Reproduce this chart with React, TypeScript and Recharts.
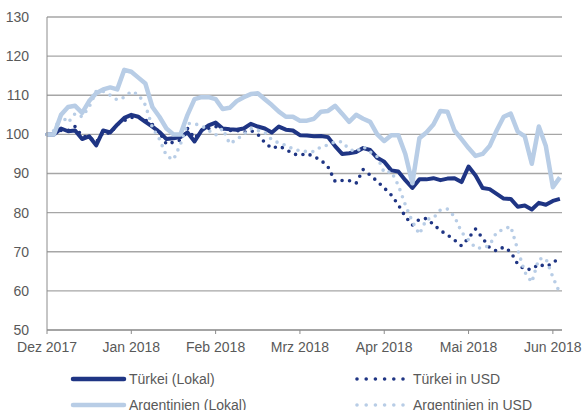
import { CartesianGrid, Line, LineChart, XAxis, YAxis } from 'recharts';

// x = trading-day step (12 steps per month), ticks every month
const monthTicks = [0, 12, 24, 36, 48, 60, 72];
const monthLabels = ['Dez 2017', 'Jan 2018', 'Feb 2018', 'Mrz 2018', 'Apr 2018', 'Mai 2018', 'Jun 2018'];
const yTicks = [50, 60, 70, 80, 90, 100, 110, 120, 130];

const tuerkeiLokal = [
  100, 100, 101.5, 100.8, 101, 98.8, 99.5, 97.2, 101, 100.5, 102.5, 104.2, 105, 104.5, 103.2, 102,
  100.6, 98.8, 99, 99.3, 100.5, 98.2, 101, 102.3, 103, 101.5, 101.3, 101.2, 101.5, 102.7, 102, 101.5,
  100.5, 102, 101.2, 101, 99.8, 99.7, 99.5, 99.6, 99.3, 97, 95, 95.2, 95.5, 96.5, 96, 94, 93, 90.8,
  90.5, 88.3, 86.3, 88.5, 88.5, 88.8, 88.3, 88.7, 88.8, 87.8, 91.8, 89.5, 86.3, 86, 84.8, 83.6, 83.5,
  81.5, 81.8, 80.8, 82.5, 82, 83, 83.5,
];

const tuerkeiUsd = [
  100, 100, 101, 101, 102, 99.5, 99.3, 98, 100.5, 100.2, 102.5, 103.5, 104.3, 104.5, 103.7, 102.5,
  100.5, 97.5, 98, 98.5, 101.5, 99, 101, 101.5, 102, 101.5, 101, 101, 100.5, 101, 100, 97.9, 96.4, 97,
  96.2, 95, 94.7, 95.1, 94.3, 93.4, 91.7, 88, 88.2, 88.2, 87.5, 91, 89.6, 88, 86.3, 84.5, 82, 79, 76.8,
  78.3, 78.5, 77, 75.4, 74.3, 73, 71.5, 73.5, 75.8, 73.5, 71, 70.2, 71.2, 70, 66.8, 65.5, 65.5, 66.8,
  66.2, 67, 68.8,
];

const argentinienLokal = [
  100, 100, 105, 107, 107.3, 105.5, 108.5, 110.5, 111.5, 112, 111.5, 116.5, 116, 114.5, 113, 107,
  104.5, 101.5, 100, 100, 105, 109, 109.5, 109.5, 109, 106.5, 106.8, 108.5, 109.5, 110.3, 110.5, 109,
  107.5, 105.8, 104.5, 104.5, 103.5, 103.5, 104, 105.8, 106, 107.3, 105.3, 103.2, 105, 104, 103.2, 100,
  98.3, 99.8, 99.8, 95, 87.5, 99, 100.5, 102.5, 106, 105.8, 101, 98.8, 96.5, 94.5, 95, 97, 101, 104.5,
  105.3, 100.7, 99.5, 92.5, 102, 97, 86.5, 89,
];

const argentinienUsd = [
  100, 101, 104.8, 103, 105.3, 104.5, 107, 111, 111, 110, 108.8, 109.5, 111, 110.2, 107.5, 101.8, 98.8,
  94.5, 93.5, 97.5, 102.8, 102.7, 102.2, 101, 99.8, 101.5, 97.6, 98.7, 100, 101.5, 101, 100.5, 98.6,
  97.8, 97.2, 96.3, 95.8, 95.6, 95.6, 96.8, 97.3, 98.1, 98.1, 96.2, 95.6, 96.9, 95.5, 94.3, 90.2, 90.5,
  87, 82, 77.7, 74.5, 78.3, 78.6, 80.7, 80.9, 79, 75, 73, 71, 70.9, 71.7, 75, 75.7, 76.5, 70.5, 64.8,
  62.2, 68.2, 68.3, 63.5, 59.4,
];

const DARK = '#1f3584';
const LIGHT = '#b8cde6';
const TEXT = '#595959';
const FONT = '"Liberation Sans", Arial, sans-serif';

const data = tuerkeiLokal.map((v, i) => ({
  i,
  tl: v,
  tu: tuerkeiUsd[i],
  al: argentinienLokal[i],
  au: argentinienUsd[i],
}));

const legendItems = [
  { label: 'Türkei (Lokal)', color: DARK, dotted: false, x: 71, y: 379 },
  { label: 'Türkei in USD', color: DARK, dotted: true, x: 357, y: 379 },
  { label: 'Argentinien (Lokal)', color: LIGHT, dotted: false, x: 71, y: 405 },
  { label: 'Argentinien in USD', color: LIGHT, dotted: true, x: 357, y: 405 },
];

function ChartLegend() {
  return (
    <svg width={586} height={410} style={{ position: 'absolute', left: 0, top: 0, pointerEvents: 'none' }}>
      {legendItems.map((it) => (
        <g key={it.label}>
          {it.dotted ? (
            <line
              x1={it.x}
              x2={it.x + 47}
              y1={it.y}
              y2={it.y}
              stroke={it.color}
              strokeWidth={3.6}
              strokeLinecap="round"
              strokeDasharray="0 9.2"
            />
          ) : (
            <line
              x1={it.x + 2}
              x2={it.x + 53}
              y1={it.y}
              y2={it.y}
              stroke={it.color}
              strokeWidth={4.5}
              strokeLinecap="round"
            />
          )}
          <text
            x={it.dotted ? it.x + 56 : it.x + 58}
            y={it.y + 5}
            fontSize={14}
            fill={TEXT}
            fontFamily={FONT}
          >
            {it.label}
          </text>
        </g>
      ))}
    </svg>
  );
}

export default function App() {
  return (
    <div style={{ position: 'absolute', left: 0, top: 0, width: 586, height: 410, background: '#fff' }}>
      <LineChart
        width={586}
        height={410}
        data={data}
        margin={{ top: 17, right: 24, left: 0, bottom: 50 }}
      >
        <CartesianGrid vertical={false} stroke="#a6a6a6" strokeWidth={1.3} />
        <XAxis
          dataKey="i"
          type="number"
          domain={[0, 73.3]}
          ticks={monthTicks}
          tickFormatter={(v: number) => monthLabels[monthTicks.indexOf(v)] ?? ''}
          height={30}
          stroke="#8c8c8c"
          tickSize={4}
          tickMargin={8}
          tick={{ fontSize: 14, fill: TEXT, fontFamily: FONT }}
        />
        <YAxis
          type="number"
          domain={[50, 130]}
          ticks={yTicks}
          width={47}
          stroke="#8c8c8c"
          tickLine={false}
          tickMargin={12}
          tick={{ fontSize: 14, fill: TEXT, fontFamily: FONT }}
        />
        <Line
          dataKey="tl"
          type="linear"
          stroke={DARK}
          strokeWidth={4}
          dot={false}
          strokeLinejoin="round"
          isAnimationActive={false}
        />
        <Line
          dataKey="tu"
          type="linear"
          stroke={DARK}
          strokeWidth={3.6}
          strokeLinecap="round"
          strokeDasharray="0 7.5"
          dot={false}
          isAnimationActive={false}
        />
        <Line
          dataKey="al"
          type="linear"
          stroke={LIGHT}
          strokeWidth={4.5}
          dot={false}
          strokeLinejoin="round"
          isAnimationActive={false}
        />
        <Line
          dataKey="au"
          type="linear"
          stroke={LIGHT}
          strokeWidth={3.6}
          strokeLinecap="round"
          strokeDasharray="0 7.5"
          dot={false}
          isAnimationActive={false}
        />
      </LineChart>
      <ChartLegend />
    </div>
  );
}
